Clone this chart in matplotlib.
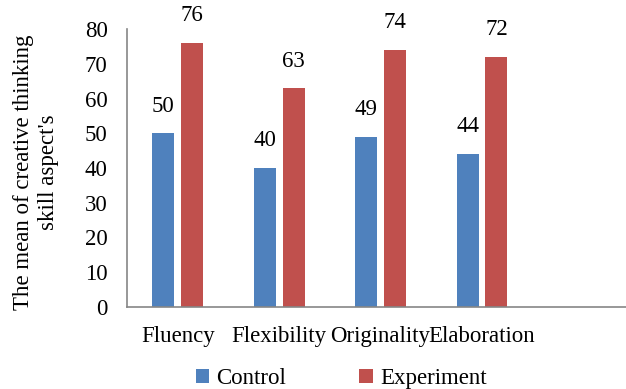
import numpy as np
import matplotlib.pyplot as plt

plt.rcParams['font.family'] = ['Liberation Serif', 'DejaVu Serif']

categories = ['Fluency', 'Flexibility', 'Originality', 'Elaboration']
control = [50, 40, 49, 44]
experiment = [76, 63, 74, 72]
yticks = [0, 10, 20, 30, 40, 50, 60, 70, 80]

fs = 16.5
fig = plt.figure(figsize=(6.26, 3.89), dpi=100)
ax = fig.add_axes([0.203, 0.211, 0.797, 0.714])

x = np.arange(len(categories))
w = 0.217
off = 0.142
b1 = ax.bar(x - off, control, w, color='#4F81BD', label='Control')
b2 = ax.bar(x + off, experiment, w, color='#C0504D', label='Experiment')

# valores acima das barras
for bars in (b1, b2):
    for b in bars:
        ax.annotate(f'{int(b.get_height())}', (b.get_x() + b.get_width() / 2, b.get_height()),
                    xytext=(0, 12), textcoords='offset points', ha='center', va='bottom', fontsize=fs)

ax.set_xlim(-0.5, 4.42)
ax.set_ylim(0, 80)
ax.set_yticks(yticks)
ax.set_xticks(x)
ax.set_xticklabels(categories, fontsize=fs)
ax.tick_params(axis='both', length=0, labelsize=fs)
ax.tick_params(axis='x', pad=14)
ax.tick_params(axis='y', pad=14)
for s in ('top', 'right'):
    ax.spines[s].set_visible(False)
for s in ('left', 'bottom'):
    ax.spines[s].set_color('#868686')
    ax.spines[s].set_linewidth(1.2)

fig.text(0.058, 0.558, "The mean of creative thinking\nskill aspect's", rotation=90,
         ha='center', va='center', fontsize=fs, linespacing=1.25, multialignment='center')

fig.legend(loc='center', bbox_to_anchor=(0.545, 0.027), ncol=2, frameon=False,
           fontsize=fs, handlelength=0.6, handleheight=0.6, handletextpad=0.3,
           columnspacing=3.2)

fig.savefig('out.png', dpi=100)
